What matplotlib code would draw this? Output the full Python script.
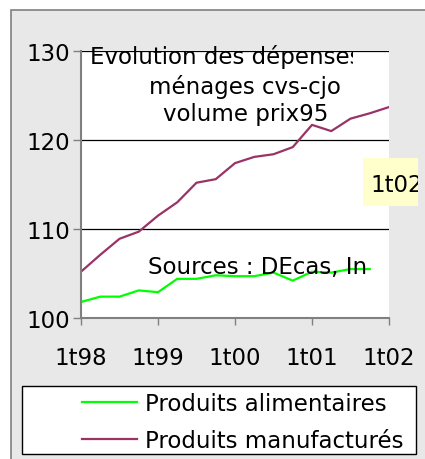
import matplotlib
matplotlib.use("Agg")
import matplotlib.pyplot as plt
from matplotlib.patches import Rectangle
from matplotlib.transforms import Bbox, TransformedBbox

W, H = 425, 460

quarters = list(range(17))
tick_pos = [0, 4, 8, 12, 16]
tick_labels = ["1t98", "1t99", "1t00", "1t01", "1t02"]
alimentaires = [101.8, 102.4, 102.4, 103.1, 102.9, 104.4, 104.4, 104.8,
                104.7, 104.7, 105.1, 104.2, 105.2, 105.1, 105.5, 105.5]
manufactures = [105.2, 107.1, 108.9, 109.7, 111.5, 113.0, 115.2, 115.6,
                117.4, 118.1, 118.4, 119.2, 121.7, 121.0, 122.4, 123.0, 123.7]
series_names = ["Produits alimentaires", "Produits manufacturés"]
title_lines = ["Evolution des dépenses des", "ménages cvs-cjo", "volume prix95"]
source_txt = "Sources : DEcas, Insee"
note_txt = "1t02"

FS = 16.5


def fx(x):
    return x / W


def fy(y):
    return 1 - y / H


def clip_right(t, xpix):
    t.set_clip_box(TransformedBbox(Bbox([[0, 0], [fx(xpix), 1]]), fig.transFigure))
    t.set_clip_on(True)


fig = plt.figure(figsize=(W / 100, H / 100), dpi=100, facecolor="white")
plt.rcParams["font.family"] = ["DejaVu Sans"]

# chart area (cut at right and bottom)
fig.patches.append(Rectangle((fx(11), fy(470)), 1, fy(11) - fy(470), transform=fig.transFigure,
                             facecolor="#e8e8e8", edgecolor="#808080", lw=1.2, zorder=-5))

ax = fig.add_axes([fx(81), fy(319), fx(389) - fx(81), fy(52) - fy(319)])
ax.set_facecolor("white")
ax.plot(quarters[:len(alimentaires)], alimentaires, color="#00ff00", lw=1.6, label=series_names[0])
ax.plot(quarters, manufactures, color="#993366", lw=1.6, label=series_names[1])
ax.set_xlim(0, 16)
ax.set_ylim(100, 130)
ax.set_yticks([100, 110, 120, 130])
for v in [110, 120, 130]:
    ax.axhline(v, color="black", lw=0.9, zorder=0)
ax.set_xticks(tick_pos)
ax.set_xticklabels(tick_labels)
for s in ["top", "right"]:
    ax.spines[s].set_visible(False)
for s in ["left", "bottom"]:
    ax.spines[s].set_color("#808080")
    ax.spines[s].set_linewidth(1.5)
ax.tick_params(axis="y", length=6, width=1, color="#808080", labelsize=FS, pad=2)
ax.tick_params(axis="x", length=5, width=1, color="#808080", labelsize=FS, pad=15)

# title (overflowing, clipped)
t = fig.text(fx(90), fy(57), title_lines[0], fontsize=FS, ha="left", va="center")
clip_right(t, 353)
fig.text(fx(245), fy(87), title_lines[1], fontsize=FS, ha="center", va="center")
fig.text(fx(246), fy(115), title_lines[2], fontsize=FS, ha="center", va="center")

t = fig.text(fx(148), fy(268), source_txt, fontsize=FS, ha="left", va="center")
clip_right(t, 366)

fig.patches.append(Rectangle((fx(363), fy(207)), fx(418) - fx(363), fy(159) - fy(207),
                             transform=fig.transFigure, facecolor="#ffffcc", edgecolor="none"))
t = fig.text(fx(370), fy(185), note_txt, fontsize=FS, ha="left", va="center")
clip_right(t, 418)

# legend
fig.patches.append(Rectangle((fx(22), fy(455)), fx(416) - fx(22), fy(387) - fy(455),
                             transform=fig.transFigure, facecolor="white", edgecolor="black", lw=1))
fig.legend(loc="upper left", bbox_to_anchor=(fx(82), fy(393)), frameon=False, fontsize=FS,
           handlelength=2.4, handletextpad=0.35, labelspacing=0.62, borderpad=0, borderaxespad=0)

fig.savefig("out.png", dpi=100)
